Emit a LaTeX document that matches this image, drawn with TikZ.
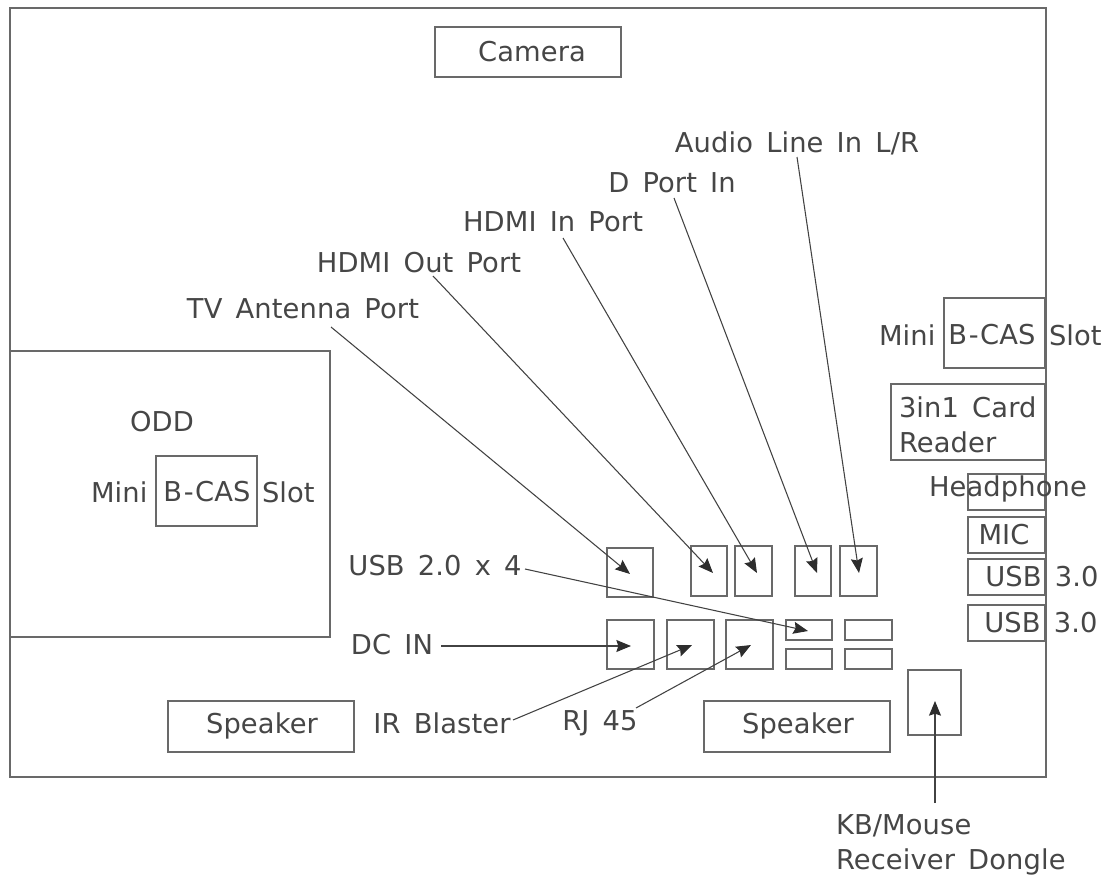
\documentclass[tikz,border=0pt]{standalone}
\usepackage{fontspec}
\setmainfont[WordSpace=1.5,LetterSpace=0.4]{DejaVu Sans}
\usetikzlibrary{arrows.meta}
\definecolor{ink}{RGB}{70,70,70}
\definecolor{edge}{RGB}{105,105,105}
\definecolor{tip}{RGB}{45,45,45}
\newcommand{\bcas}{B\kern1.2pt-\kern1.2pt CAS}
\tikzset{
  box/.style={draw=edge,line width=0.9pt,inner sep=0pt,outer sep=0pt,anchor=north west},
  lab/.style={text=ink,font=\fontsize{20.5}{25.8}\selectfont,inner sep=0pt,outer sep=0pt},
  lnk/.style={draw=tip!90!white,line width=0.8pt,-{Stealth[length=11pt,width=9pt,inset=1.5pt,color=tip]}},
  bx/.style 2 args={box,minimum width=#1*0.75pt,minimum height=#2*0.75pt}
}
\begin{document}
\begin{tikzpicture}[x=0.75pt,y=-0.75pt]
\useasboundingbox (0,0) rectangle (1111,878);
\node[bx={1036}{769}] (outer) at (10,8) {};
\node[bx={186}{50}] (camera) at (435,27) {};
\node[lab] (tcamera) at (532,52) {Camera};
\node[bx={320}{286}] (odd) at (10,351) {};
\node[lab] (todd) at (162,422) {ODD};
\node[bx={101}{70}] (casL) at (156,456) {};
\node[lab,anchor=west] (tmL) at (91,492) {Mini};
\node[lab] (tbL) at (207,492) {\bcas};
\node[lab,anchor=west] (tsL) at (262,492) {Slot};
\node[bx={101}{70}] (casR) at (944,298) {};
\node[lab,anchor=west] (tmR) at (879,335) {Mini};
\node[lab] (tbR) at (992,335) {\bcas};
\node[lab,anchor=west] (tsR) at (1049,335) {Slot};
\node[bx={154}{76}] (card) at (891,384) {};
\node[lab,anchor=west,align=left] (tcard) at (899,425) {3in1 Card\\Reader};
\node[bx={77}{36}] (hp) at (968,474) {};
\node[lab] (thp) at (1008,489) {Headphone};
\node[bx={77}{36}] (mic) at (968,517) {};
\node[lab] (tmic) at (1004,535) {MIC};
\node[bx={77}{36}] (u1) at (968,559) {};
\node[lab] (tu1) at (1042,577) {USB 3.0};
\node[bx={77}{36}] (u2) at (968,605) {};
\node[lab] (tu2) at (1041,623) {USB 3.0};
\node[bx={186}{51}] (spL) at (168,701) {};
\node[lab] (tspL) at (262,726) {Speaker};
\node[bx={186}{51}] (spR) at (704,701) {};
\node[lab] (tspR) at (798,726) {Speaker};
\node[bx={53}{65}] (dongle) at (908,670) {};
\node[bx={46}{49}] (p1) at (607,548) {};
\node[bx={36}{50}] (p2) at (691,546) {};
\node[bx={37}{50}] (p3) at (735,546) {};
\node[bx={36}{50}] (p4) at (795,546) {};
\node[bx={37}{50}] (p5) at (840,546) {};
\node[bx={47}{49}] (q1) at (607,620) {};
\node[bx={47}{49}] (q2) at (667,620) {};
\node[bx={47}{49}] (q3) at (726,620) {};
\node[bx={46}{20}] (r1) at (786,620) {};
\node[bx={47}{20}] (r2) at (845,620) {};
\node[bx={46}{20}] (r3) at (786,649) {};
\node[bx={47}{20}] (r4) at (845,649) {};
\node[lab] (ant) at (303,309) {TV Antenna Port};
\node[lab] (hout) at (419,263) {HDMI Out Port};
\node[lab] (hin) at (553,222) {HDMI In Port};
\node[lab] (dp) at (672,183) {D Port In};
\node[lab] (aud) at (797,143) {Audio Line In L/R};
\node[lab] (usb) at (435,566) {USB 2.0 x 4};
\node[lab] (dc) at (392,645) {DC IN};
\node[lab] (ir) at (442,723) {IR Blaster};
\node[lab] (rj) at (600,723) {RJ 45};
\node[lab,align=left,anchor=west] (kb) at (836,845) {KB/Mouse\\Receiver Dongle};
\coordinate (tp1) at (630,574);
\coordinate (tp2) at (713,573);
\coordinate (tp3) at (757,573);
\coordinate (tp4) at (817,573);
\coordinate (tp5) at (859,573);
\coordinate (tr1) at (808,631);
\coordinate (tq1) at (631,646);
\coordinate (tq2) at (692,645);
\coordinate (tq3) at (751,645);
\coordinate (td) at (935,701);
\coordinate (f1) at (331,327);
\coordinate (f2) at (433,276);
\coordinate (f3) at (563,238);
\coordinate (f4) at (674,198);
\coordinate (f5) at (797,157);
\coordinate (f6) at (525,569);
\coordinate (f7) at (441,646);
\coordinate (f8) at (513,720);
\coordinate (f9) at (636,708);
\coordinate (f10) at (935,803);
\draw[lnk] (f1) -- (tp1);
\draw[lnk] (f2) -- (tp2);
\draw[lnk] (f3) -- (tp3);
\draw[lnk] (f4) -- (tp4);
\draw[lnk] (f5) -- (tp5);
\draw[lnk] (f6) -- (tr1);
\draw[lnk] (f7) -- (tq1);
\draw[lnk] (f8) -- (tq2);
\draw[lnk] (f9) -- (tq3);
\draw[lnk] (f10) -- (td);
\end{tikzpicture}
\end{document}
